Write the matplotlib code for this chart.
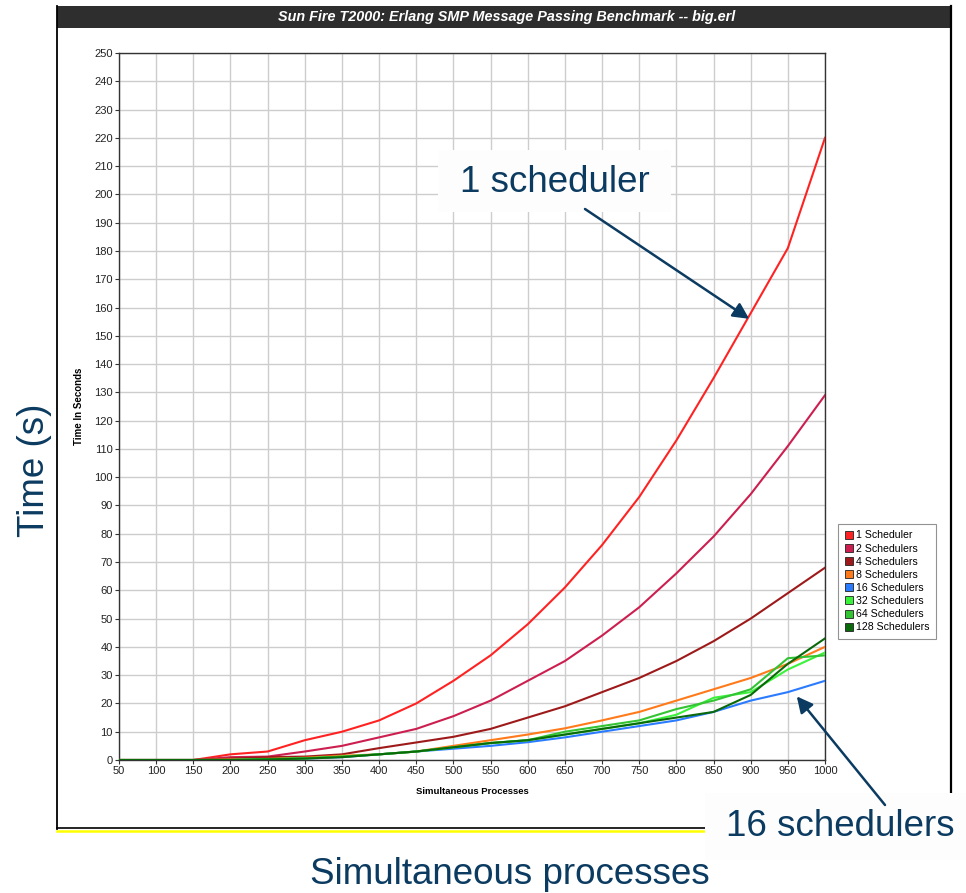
import matplotlib
matplotlib.use("Agg")
import matplotlib.pyplot as plt
from matplotlib.patches import Rectangle, FancyArrowPatch
from matplotlib.lines import Line2D

plt.rcParams['font.family'] = ['Liberation Sans', 'DejaVu Sans']

# ---------------- data ----------------
processes = [50, 100, 150, 200, 250, 300, 350, 400, 450, 500,
             550, 600, 650, 700, 750, 800, 850, 900, 950, 1000]

sched_1 = [0, 0, 0, 2, 3, 7, 10, 14, 20, 28, 37, 48, 61, 76, 93, 113, 135, 158, 181, 220]
sched_2 = [0, 0, 0, 1, 1.2, 3, 5, 8, 11, 15.5, 21, 28, 35, 44, 54, 66, 79, 94, 111, 129]
sched_4 = [0, 0, 0, 0.5, 1, 1.2, 2, 4.2, 6.2, 8.2, 11, 15, 19, 24, 29, 35, 42, 50, 59, 68]
sched_8 = [0, 0, 0, 0.2, 0.4, 0.8, 1.5, 2, 3, 5, 7, 9, 11.2, 14, 17, 21, 25, 29, 34, 40]
sched_16 = [0, 0, 0, 0, 0.2, 0.5, 1, 2, 3, 4, 5, 6.3, 8, 10, 12, 14, 17, 21, 24, 28]
sched_32 = [0, 0, 0, 0, 0.3, 0.6, 1.2, 2, 3, 4.5, 6, 7, 9, 11, 13, 16, 22, 24, 32, 38]
sched_64 = [0, 0, 0, 0, 0.3, 0.6, 1.2, 2, 3, 4.5, 6, 7, 10, 12, 14, 18, 21, 25, 36, 37]
sched_128 = [0, 0, 0, 0, 0.2, 0.5, 1, 2, 3, 4.5, 6, 7, 9, 11, 13, 15, 17, 23, 34, 43]

series_labels = ["1 Scheduler", "2 Schedulers", "4 Schedulers", "8 Schedulers",
                 "16 Schedulers", "32 Schedulers", "64 Schedulers", "128 Schedulers"]
series_colors = ["#ff2222", "#cc1f4f", "#9e1a1a", "#ff7a1a",
                 "#2b7bff", "#3af23a", "#33c433", "#0a6a0a"]
series_values = [sched_1, sched_2, sched_4, sched_8, sched_16, sched_32, sched_64, sched_128]

y_ticks = list(range(0, 251, 10))
x_ticks = processes

chart_title = "Sun Fire T2000: Erlang SMP Message Passing Benchmark -- big.erl"
navy = "#0c3b61"

# ---------------- figure ----------------
W, H = 966, 893
fig = plt.figure(figsize=(W / 100, H / 100), dpi=100)
fig.patch.set_facecolor("white")


def fx(px):
    return px / W


def fy(py):
    return 1 - py / H


ax = fig.add_axes([fx(119), fy(760), fx(825) - fx(119), fy(53) - fy(760)])
ax.set_facecolor("white")

draw_order = [0, 1, 2, 3, 7, 6, 5, 4]
for i in draw_order:
    ax.plot(processes, series_values[i], color=series_colors[i], lw=1.5,
            label=series_labels[i], zorder=3 + i * 0.01, solid_joinstyle="round")

ax.set_xlim(50, 1000)
ax.set_ylim(0, 250)
ax.set_xticks(x_ticks)
ax.set_yticks(y_ticks)
ax.grid(True, color="#cdcdcd", lw=1.0)
ax.set_axisbelow(True)
ax.tick_params(axis="both", labelsize=8, length=3, width=0.8, color="#333333",
               labelcolor="#222222", pad=1.5)
for s in ax.spines.values():
    s.set_color("#333333")
    s.set_linewidth(1.0)
ax.set_xlabel("Simultaneous Processes", fontsize=6.8, fontweight="bold")
ax.set_ylabel("Time In Seconds", fontsize=7, fontweight="bold")
ax.xaxis.set_label_coords(0.5, -(787 - 760) / 707)
ax.yaxis.set_label_coords((84 - 119) / 706, 0.5)

# legend
handles = [Line2D([], [], marker="s", ls="none", markersize=6,
                  markerfacecolor=c, markeredgecolor="#222222", markeredgewidth=0.6)
           for c in series_colors]
leg = fig.legend(handles, series_labels, loc="upper left",
                 bbox_to_anchor=(fx(838), fy(524)), frameon=True, fancybox=False,
                 fontsize=7.6, handlelength=0.8, handletextpad=0.35,
                 labelspacing=0.3, borderpad=0.6, borderaxespad=0)
leg.get_frame().set_edgecolor("#777777")
leg.get_frame().set_linewidth(0.8)

# outer frame of the screenshot
fig.patches.append(Rectangle((fx(57), fy(28)), fx(952) - fx(57), fy(6) - fy(28),
                             transform=fig.transFigure, facecolor="#2e2e2e",
                             edgecolor="none", zorder=1))
fig.text(fx(507), fy(17), chart_title, color="white", fontsize=10.4,
         fontweight="bold", fontstyle="italic", ha="center", va="center")
fig.add_artist(Line2D([fx(57), fx(57)], [fy(6), fy(829)], color="black", lw=1.3))
fig.add_artist(Line2D([fx(951), fx(951)], [fy(6), fy(793)], color="black", lw=1.6))
fig.add_artist(Line2D([fx(57), fx(706)], [fy(828), fy(828)], color="black", lw=1.2))
fig.add_artist(Line2D([fx(57), fx(706)], [fy(830.5), fy(830.5)], color="#ffff00", lw=1.8))

# white callout boxes
fig.patches.append(Rectangle((fx(438), fy(212)), fx(671) - fx(438), fy(150) - fy(212),
                             transform=fig.transFigure, facecolor="#fdfdfd",
                             edgecolor="none", zorder=2))
fig.patches.append(Rectangle((fx(705), fy(860)), fx(966) - fx(705), fy(793) - fy(860),
                             transform=fig.transFigure, facecolor="#fdfdfd",
                             edgecolor="none", zorder=2))

fig.text(fx(555), fy(183), "1 scheduler", color=navy, fontsize=26.5,
         ha="center", va="center", zorder=5)
fig.text(fx(840), fy(826), "16 schedulers", color=navy, fontsize=26.5,
         ha="center", va="center", zorder=5)
fig.text(fx(510), fy(874), "Simultaneous processes", color=navy, fontsize=26.5,
         ha="center", va="center", zorder=5)
fig.text(fx(34), fy(470), "Time (s)", color=navy, fontsize=26.5, rotation=90,
         ha="center", va="center", zorder=5)

# arrows (tip positions in data space)
inv = fig.transFigure.inverted()


def data_to_fig(x, y):
    return tuple(inv.transform(ax.transData.transform((x, y))))


arrow_specs = [((fx(585), fy(209)), data_to_fig(898, 156)),
               ((fx(885), fy(805)), data_to_fig(962, 22.5))]
for tail, tip in arrow_specs:
    fig.patches.append(FancyArrowPatch(tail, tip, transform=fig.transFigure,
                                       arrowstyle="-|>", mutation_scale=24,
                                       color=navy, lw=1.8, zorder=6,
                                       shrinkA=0, shrinkB=0))

fig.savefig("out.png", dpi=100, facecolor="white")
